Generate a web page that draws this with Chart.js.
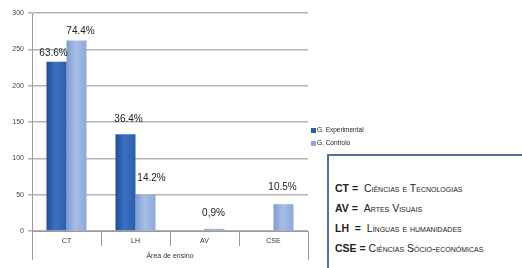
<!DOCTYPE html>
<html>
<head>
<meta charset="utf-8">
<script src="https://cdn.jsdelivr.net/npm/chart.js@4"></script>
<style>
  html, body { margin: 0; padding: 0; background: #fff; }
  #wrap { position: relative; width: 522px; height: 268px; overflow: hidden; font-family: "Liberation Sans", Arial, sans-serif; }
  #c { position: absolute; left: 0; top: 0; }
  #legend { position: absolute; left: 311px; top: 123px; font-size: 6.5px; color: #222; line-height: 13px; }
  #legend .sw { display: inline-block; width: 5px; height: 5px; margin-right: 1px; vertical-align: -0.5px; }
  #defs { position: absolute; left: 327px; top: 154px; width: 210px; height: 130px; border: 2px solid #56709c; background: #fff; box-sizing: border-box; padding-top: 22px; padding-left: 6px; color: #222; }
  #defs div { white-space: pre; font-size: 10.5px; line-height: 20px; font-variant: small-caps; }
  #defs b { font-variant: normal; font-size: 10.5px; }
</style>
</head>
<body>
<div id="wrap">
  <canvas id="c" width="522" height="268"></canvas>
  <div id="legend"></div>
  <div id="defs"></div>
</div>
<script>
const categories = ["CT", "LH", "AV", "CSE"];
const seriesNames = ["G. Experimental", "G. Controlo"];
const experimental = [233, 133, 0, 0];
const controlo = [262, 50, 3, 37];
const experimentalLabels = ["63.6%", "36.4%", null, null];
const controloLabels = ["74.4%", "14.2%", "0,9%", "10.5%"];
const yTicks = [0, 50, 100, 150, 200, 250, 300];
const xTitle = "Área de ensino";
const definitions = [
  ["CT =  ", "Ciências e Tecnologias"],
  ["AV =  ", "Artes Visuais"],
  ["LH  =  ", "Línguas e humanidades"],
  ["CSE = ", "Ciências Sócio-económicas"]
];

// style
const colExp = ["#1f4f92", "#3a72c4", "#2a5ea8"];
const colCtl = ["#7f9bcd", "#a6bde6", "#8ea9da"];
// per category: [experimental nudge, controlo nudge]
const labelNudge = [[[-3, -8], [4, -9]], [[3, -15], [6, -16]], [[0, 0], [-1, -16]], [[0, 0], [-1, -17]]];

const gradPlugin = {
  id: 'grad',
  beforeDatasetsDraw(chart) {
    const ctx = chart.ctx;
    chart.data.datasets.forEach((ds, di) => {
      const meta = chart.getDatasetMeta(di);
      const cols = di === 0 ? colExp : colCtl;
      meta.data.forEach(el => {
        const x0 = el.x - el.width / 2, x1 = el.x + el.width / 2;
        const g = ctx.createLinearGradient(x0, 0, x1, 0);
        g.addColorStop(0, cols[0]);
        g.addColorStop(0.45, cols[1]);
        g.addColorStop(1, cols[2]);
        el.options = Object.assign({}, el.options, { backgroundColor: g });
      });
    });
  },
  afterDatasetsDraw(chart) {
    const ctx = chart.ctx;
    const ca = chart.chartArea;
    ctx.save();
    ctx.strokeStyle = '#9a9a9a';
    ctx.lineWidth = 1;
    const n = categories.length;
    for (let i = 0; i <= n; i++) {
      const x = Math.round(ca.left + i * (ca.right - ca.left) / n) + 0.5;
      const yEnd = (i === 0 || i === n) ? ca.bottom + 29 : ca.bottom + 15;
      ctx.beginPath();
      ctx.moveTo(x, ca.bottom);
      ctx.lineTo(x, yEnd);
      ctx.stroke();
    }
    ctx.restore();
    ctx.save();
    ctx.font = '10px "Liberation Sans", Arial, sans-serif';
    ctx.fillStyle = '#222';
    ctx.textAlign = 'center';
    ctx.textBaseline = 'middle';
    [experimentalLabels, controloLabels].forEach((labels, di) => {
      const meta = chart.getDatasetMeta(di);
      meta.data.forEach((el, i) => {
        if (!labels[i]) return;
        const nd = labelNudge[i][di];
        ctx.fillText(labels[i], el.x + nd[0], el.y + nd[1]);
      });
    });
    ctx.restore();
  }
};

const chart = new Chart(document.getElementById('c'), {
  type: 'bar',
  data: {
    labels: categories,
    datasets: [
      { label: seriesNames[0], data: experimental, backgroundColor: colExp[2], borderWidth: 0 },
      { label: seriesNames[1], data: controlo, backgroundColor: colCtl[2], borderWidth: 0 }
    ]
  },
  options: {
    responsive: false,
    animation: false,
    devicePixelRatio: 1,
    layout: { padding: { top: 13, right: 214, left: 0, bottom: 0 } },
    datasets: { bar: { categoryPercentage: 0.58, barPercentage: 1.0 } },
    plugins: { legend: { display: false }, tooltip: { enabled: false } },
    scales: {
      y: {
        min: 0, max: 300,
        afterBuildTicks(s) { s.ticks = yTicks.map(v => ({ value: v })); },
        afterFit(s) { s.width = 32; },
        ticks: { font: { size: 7, family: '"Liberation Sans", Arial' }, color: '#444', padding: 4 },
        grid: { color: '#b3b3b3', lineWidth: 1.5, tickLength: 4, drawTicks: true },
        border: { color: '#9a9a9a', width: 1 }
      },
      x: {
        afterFit(s) { s.height = 37; },
        ticks: { font: { size: 7, family: '"Liberation Sans", Arial' }, color: '#333', padding: 6 },
        grid: { display: false, drawTicks: false },
        border: { color: '#9a9a9a', width: 1 },
        title: { display: true, text: xTitle, font: { size: 7, family: '"Liberation Sans", Arial' }, color: '#333', padding: { top: 0, bottom: 8 } }
      }
    }
  },
  plugins: [gradPlugin]
});

const lg = document.getElementById('legend');
chart.data.datasets.forEach((ds, i) => {
  const row = document.createElement('div');
  const sw = document.createElement('span');
  sw.className = 'sw';
  sw.style.background = i === 0 ? colExp[2] : colCtl[2];
  row.appendChild(sw);
  row.appendChild(document.createTextNode(ds.label));
  lg.appendChild(row);
});
const defs = document.getElementById('defs');
definitions.forEach(d => {
  const row = document.createElement('div');
  const b = document.createElement('b');
  b.textContent = d[0];
  row.appendChild(b);
  row.appendChild(document.createTextNode(d[1]));
  defs.appendChild(row);
});
</script>
</body>
</html>
